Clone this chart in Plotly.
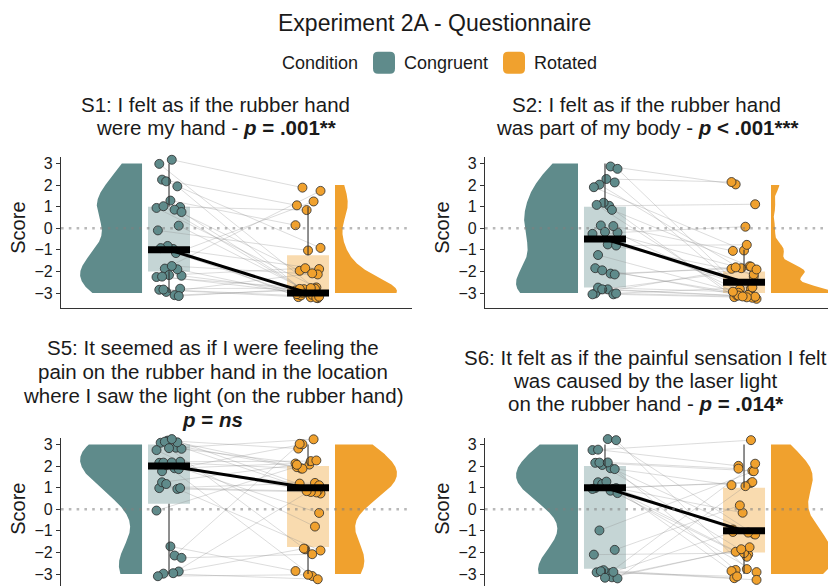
import numpy as np
import plotly.graph_objects as go

W, H = 828, 586
TEAL = "#5F8B8B"
ORANGE = "#F0A12E"
FONT = "Liberation Sans, Arial, Helvetica, sans-serif"

conditions = ["Congruent", "Rotated"]
score_ticks = [-3, -2, -1, 0, 1, 2, 3]

# Likert ratings (-3 .. 3); index i is the same participant in both conditions
s1_congruent = [3, 3, 2, 2, 2, 1, 1, 1, 1, 1, 1, 0, 0, -1, -1, -1, -1,
                -2, -2, -2, -2, -2, -2, -2, -3, -3, -3, -3, -3, -3]
s1_rotated = [2, -3, 1, -3, -1, 1, -3, -2, -3, 0, -3, -3, -1, -2, -3, 1, -3,
              -3, 2, -2, -3, -3, -2, -3, -3, -3, -3, -2, -3, -3]

s2_congruent = [3, 3, 2, 2, 2, 2, 1, 1, 1, 1, 0, 0, 0, 0, 0, -1, -1, -1,
                -2, -2, -2, -2, -3, -3, -3, -3, -3, -3, -3, -3]
s2_rotated = [2, -3, 2, -2, -3, -1, 1, -3, -2, -3, 0, -3, -2, -1, -3, -2, -3, -1,
              -3, -2, -3, -2, -3, -3, -2, -3, -3, -2, -3, -3]

s5_congruent = [3, 3, 3, 3, 3, 3, 3, 3, 3, 2, 2, 2, 2, 2, 2, 2, 2, 1,
                1, 1, 1, 1, 0, -2, -2, -2, -3, -3, -3, -3]
s5_rotated = [3, 3, 2, 2, 1, -2, 2, -1, 1, 3, 2, 1, 2, -3, 1, 0, 2, 1,
              2, 1, -2, 1, 2, 3, -2, -3, -3, -2, -3, 1]

s6_congruent = [3, 3, 3, 3, 2, 2, 2, 2, 2, 2, 1, 1, 1, 1, 1, 1, 1, 1,
                1, -1, -2, -2, -3, -3, -3, -3, -3, -3, -3, -3]
s6_rotated = [3, -1, 2, -3, 2, 1, -2, -3, -1, 2, 1, -1, -2, -3, 0, 1, -2, -1,
              -3, 2, 0, -2, 2, -3, -2, -3, 1, -3, -2, -1]

s1_title = ["S1: I felt as if the rubber hand",
            "were my hand - <b><i>p</i> = .001**</b>"]
s2_title = ["S2: I felt as if the rubber hand",
            "was part of my body - <b><i>p</i> &lt; .001***</b>"]
s5_title = ["S5: It seemed as if I were feeling the",
            "pain on the rubber hand in the location",
            "where I saw the light (on the rubber hand)",
            "<b><i>p</i> = <i>ns</i></b>"]
s6_title = ["S6: It felt as if the painful sensation I felt",
            "was caused by the laser light",
            "on the rubber hand - <b><i>p</i> = .014*</b>"]

# display jitter for the raw points (x in category units, y in score units)
jitter_x_congruent = [0.02, -0.07, -0.05, 0.06, -0.02, 0.08, -0.09, 0.04, 0.09, 0.01,
                      -0.04, 0.07, -0.08, 0.03, -0.01, 0.05, -0.06, 0.09, -0.03, 0.00,
                      0.06, -0.09, 0.02, -0.05, 0.08, -0.07, 0.04, -0.02, 0.07, -0.04]
jitter_x_rotated = [-0.04, 0.05, -0.08, 0.02, 0.09, -0.01, 0.06, -0.06, 0.03, -0.09,
                    0.07, -0.03, 0.00, 0.08, -0.07, 0.04, -0.05, 0.01, 0.09, -0.02,
                    -0.08, 0.05, 0.07, -0.04, 0.02, 0.06, -0.09, 0.03, -0.06, 0.08]
jitter_y_congruent = [0.17, -0.02, 0.25, -0.06, 0.17, -0.02, -0.06, -0.14, -0.25, 0.28,
                      0.02, 0.12, -0.10, 0.04, 0.18, -0.15, 0.08, -0.20, 0.13, -0.17,
                      0.10, -0.26, 0.25, -0.24, 0.20, 0.15, -0.10, 0.05, -0.14, 0.16]
jitter_y_rotated = [-0.12, 0.22, 0.06, -0.20, 0.09, -0.16, 0.26, 0.03, -0.08, 0.14,
                    -0.24, 0.18, -0.03, 0.11, -0.19, 0.24, -0.11, 0.07, -0.27, 0.15,
                    -0.05, 0.20, -0.14, 0.01, 0.23, -0.22, 0.12, -0.09, 0.19, -0.17]

CONG_X, ROT_X = 1.0, 2.0
BOX_HALF = 0.151
VIOLIN_GAP = 0.194
VIOLIN_W = 0.446


def px_x(p):
    return p / W


def px_y(p):
    return 1 - p / H


def bw_nrd0(v):
    v = np.asarray(v, float)
    sd = v.std(ddof=1)
    q75, q25 = np.percentile(v, [75, 25])
    lo = min(sd, (q75 - q25) / 1.34)
    if lo <= 0:
        lo = sd if sd > 0 else 1.0
    return 0.9 * lo * len(v) ** -0.2


def half_density(v):
    v = np.asarray(v, float)
    bw = bw_nrd0(v)
    grid = np.linspace(v.min(), v.max(), 512)
    dens = np.exp(-0.5 * ((grid[:, None] - v[None, :]) / bw) ** 2).sum(axis=1)
    return grid, dens / dens.max() * VIOLIN_W


def box_stats(v):
    v = np.asarray(v, float)
    q1, med, q3 = np.percentile(v, [25, 50, 75])
    iqr = q3 - q1
    upper = v[v <= q3 + 1.5 * iqr].max()
    lower = v[v >= q1 - 1.5 * iqr].min()
    return q1, med, q3, lower, upper


def rgba(hex_color, a):
    h = hex_color.lstrip("#")
    r, g, b = int(h[0:2], 16), int(h[2:4], 16), int(h[4:6], 16)
    return f"rgba({r},{g},{b},{a})"


panels = [
    dict(cong=s1_congruent, rot=s1_rotated, title=s1_title, shift=0,
         xpx=(61, 412), ypx=(156, 307), xr=(0.223, 2.748), yr=(-3.692, 3.277),
         tx=215.5, tbase=[110, 133], score_x=18.5, bottom_line=True),
    dict(cong=s2_congruent, rot=s2_rotated, title=s2_title, shift=7,
         xpx=(485, 828), ypx=(156, 307), xr=(0.137, 2.604), yr=(-3.692, 3.277),
         tx=646.5, tbase=[110, 133], score_x=442.5, bottom_line=True),
    dict(cong=s5_congruent, rot=s5_rotated, title=s5_title, shift=14,
         xpx=(61, 412), ypx=(437, 586), xr=(0.223, 2.748), yr=(-3.553, 3.323),
         tx=213, tbase=[354, 378, 402, 426], score_x=18.5, bottom_line=False),
    dict(cong=s6_congruent, rot=s6_rotated, title=s6_title, shift=21,
         xpx=(485, 828), ypx=(437, 586), xr=(0.137, 2.604), yr=(-3.553, 3.323),
         tx=645, tbase=[364, 387, 410], score_x=442.5, bottom_line=False),
]

fig = go.Figure()
layout_axes = {}
annotations = []
shapes = []
TITLE_FS = 20.5

for k, p in enumerate(panels):
    n = k + 1
    xa = "x" if n == 1 else f"x{n}"
    ya = "y" if n == 1 else f"y{n}"
    ax = dict(xaxis=xa, yaxis=ya)

    cong = np.asarray(p["cong"], float)
    rot = np.asarray(p["rot"], float)
    idx = [(i + p["shift"]) % len(jitter_x_congruent) for i in range(len(cong))]
    xc = CONG_X + np.array([jitter_x_congruent[i] for i in idx])
    yc = cong + np.array([jitter_y_congruent[i] for i in idx])
    xr_ = ROT_X + np.array([jitter_x_rotated[i] for i in idx])
    yr_ = rot + np.array([jitter_y_rotated[i] for i in idx])

    # half violins
    g, w = half_density(cong)
    edge = CONG_X - VIOLIN_GAP
    fig.add_trace(go.Scatter(
        x=np.concatenate([edge - w, [edge, edge]]),
        y=np.concatenate([g, [g[-1], g[0]]]),
        fill="toself", fillcolor=TEAL, mode="lines", line=dict(width=0),
        hoverinfo="skip", showlegend=False, **ax))
    g, w = half_density(rot)
    edge = ROT_X + VIOLIN_GAP
    fig.add_trace(go.Scatter(
        x=np.concatenate([edge + w, [edge, edge]]),
        y=np.concatenate([g, [g[-1], g[0]]]),
        fill="toself", fillcolor=ORANGE, mode="lines", line=dict(width=0),
        hoverinfo="skip", showlegend=False, **ax))

    # boxes (interquartile range)
    sc = box_stats(cong)
    sr = box_stats(rot)
    fig.add_trace(go.Bar(
        x=[CONG_X, ROT_X], y=[sc[2] - sc[0], sr[2] - sr[0]], base=[sc[0], sr[0]],
        width=2 * BOX_HALF, marker=dict(color=[rgba(TEAL, 0.36), rgba(ORANGE, 0.38)],
                                        line=dict(width=0)),
        hoverinfo="skip", showlegend=False, **ax))

    # participant lines
    lx, ly = [], []
    for a, b, c, d in zip(xc, xr_, yc, yr_):
        lx += [a, b, None]
        ly += [c, d, None]
    fig.add_trace(go.Scatter(x=lx, y=ly, mode="lines",
                             line=dict(color="rgba(140,140,140,0.38)", width=0.8),
                             hoverinfo="skip", showlegend=False, **ax))

    # raw points
    for xs, ys, col, name in [(xc, yc, TEAL, conditions[0]), (xr_, yr_, ORANGE, conditions[1])]:
        fig.add_trace(go.Scatter(
            x=xs, y=ys, mode="markers", name=name, cliponaxis=False,
            marker=dict(size=9, color=col, line=dict(color="#2a2a2a", width=0.8)),
            showlegend=False, **ax))

    # whiskers, medians and median connector
    for pos, s in [(CONG_X, sc), (ROT_X, sr)]:
        q1, med, q3, lo, hi = s
        fig.add_trace(go.Scatter(x=[pos, pos, None, pos, pos], y=[q3, hi, None, q1, lo],
                                 mode="lines", line=dict(color="#333333", width=1.1),
                                 hoverinfo="skip", showlegend=False, **ax))
    fig.add_trace(go.Scatter(x=[CONG_X, ROT_X], y=[sc[1], sr[1]], mode="lines",
                             line=dict(color="black", width=3),
                             hoverinfo="skip", showlegend=False, **ax))
    for pos, s in [(CONG_X, sc), (ROT_X, sr)]:
        fig.add_trace(go.Scatter(x=[pos - BOX_HALF, pos + BOX_HALF], y=[s[1], s[1]],
                                 mode="lines", line=dict(color="black", width=7),
                                 hoverinfo="skip", showlegend=False, **ax))

    xkey = "xaxis" if n == 1 else f"xaxis{n}"
    ykey = "yaxis" if n == 1 else f"yaxis{n}"
    layout_axes[xkey] = dict(
        domain=[px_x(p["xpx"][0]), min(1.0, px_x(p["xpx"][1]))],
        range=list(p["xr"]), anchor=ya, showgrid=False, zeroline=False,
        showticklabels=False, ticks="", showline=p["bottom_line"],
        linecolor="#333333", linewidth=1.2)
    layout_axes[ykey] = dict(
        domain=[max(0.0, px_y(p["ypx"][1])), px_y(p["ypx"][0])],
        range=list(p["yr"]), anchor=xa, tickmode="array", tickvals=score_ticks,
        showgrid=False, zeroline=False, showline=True, linecolor="#333333",
        linewidth=1.2, ticks="outside", ticklen=4, tickwidth=1.1, tickcolor="#333333",
        tickfont=dict(size=16, color="#1a1a1a", family=FONT))

    # dotted reference line at zero
    shapes.append(dict(type="line", xref=f"{xa} domain", yref=ya, x0=0, x1=1, y0=0, y1=0,
                       line=dict(color="rgba(128,128,128,0.55)", width=2.6,
                                 dash="2.6px,5.2px"), layer="above"))

    # panel title lines
    for line_txt, base in zip(p["title"], p["tbase"]):
        annotations.append(dict(text=line_txt, xref="paper", yref="paper",
                                x=px_x(p["tx"]), y=px_y(base - 0.347 * TITLE_FS),
                                xanchor="center", yanchor="middle", showarrow=False,
                                font=dict(size=TITLE_FS, color="#1a1a1a", family=FONT)))
    annotations.append(dict(text="Score", xref="paper", yref=ya, x=px_x(p["score_x"]), y=0,
                            textangle=-90, xanchor="center", yanchor="middle",
                            showarrow=False,
                            font=dict(size=20, color="#1a1a1a", family=FONT)))

# figure title and legend
annotations.append(dict(text="Experiment 2A - Questionnaire", xref="paper", yref="paper",
                        x=px_x(434), y=px_y(29.5 - 0.347 * 23), xanchor="center",
                        yanchor="middle", showarrow=False,
                        font=dict(size=23, color="#1a1a1a", family=FONT)))
legend_y = px_y(67 - 0.347 * 18)
annotations.append(dict(text="Condition", xref="paper", yref="paper", x=px_x(280), y=legend_y,
                        xanchor="left", yanchor="middle", showarrow=False,
                        font=dict(size=18, color="#1a1a1a", family=FONT)))
for label, col, sx, tx in [(conditions[0], TEAL, 373, 402), (conditions[1], ORANGE, 503, 532)]:
    x0, x1, y0, y1, r = sx, sx + 22, 50, 72, 5
    path = (f"M {px_x(x0 + r)} {px_y(y0)} L {px_x(x1 - r)} {px_y(y0)} "
            f"Q {px_x(x1)} {px_y(y0)} {px_x(x1)} {px_y(y0 + r)} L {px_x(x1)} {px_y(y1 - r)} "
            f"Q {px_x(x1)} {px_y(y1)} {px_x(x1 - r)} {px_y(y1)} L {px_x(x0 + r)} {px_y(y1)} "
            f"Q {px_x(x0)} {px_y(y1)} {px_x(x0)} {px_y(y1 - r)} L {px_x(x0)} {px_y(y0 + r)} "
            f"Q {px_x(x0)} {px_y(y0)} {px_x(x0 + r)} {px_y(y0)} Z")
    shapes.append(dict(type="path", xref="paper", yref="paper", path=path,
                       fillcolor=col, line=dict(width=0)))
    annotations.append(dict(text=label, xref="paper", yref="paper", x=px_x(tx), y=legend_y,
                            xanchor="left", yanchor="middle", showarrow=False,
                            font=dict(size=18, color="#1a1a1a", family=FONT)))

fig.update_layout(
    width=W, height=H, margin=dict(l=0, r=0, t=0, b=0),
    paper_bgcolor="white", plot_bgcolor="white",
    font=dict(family=FONT, color="#1a1a1a"),
    showlegend=False, barmode="overlay",
    annotations=annotations, shapes=shapes, **layout_axes)

fig.write_html("out.html")
